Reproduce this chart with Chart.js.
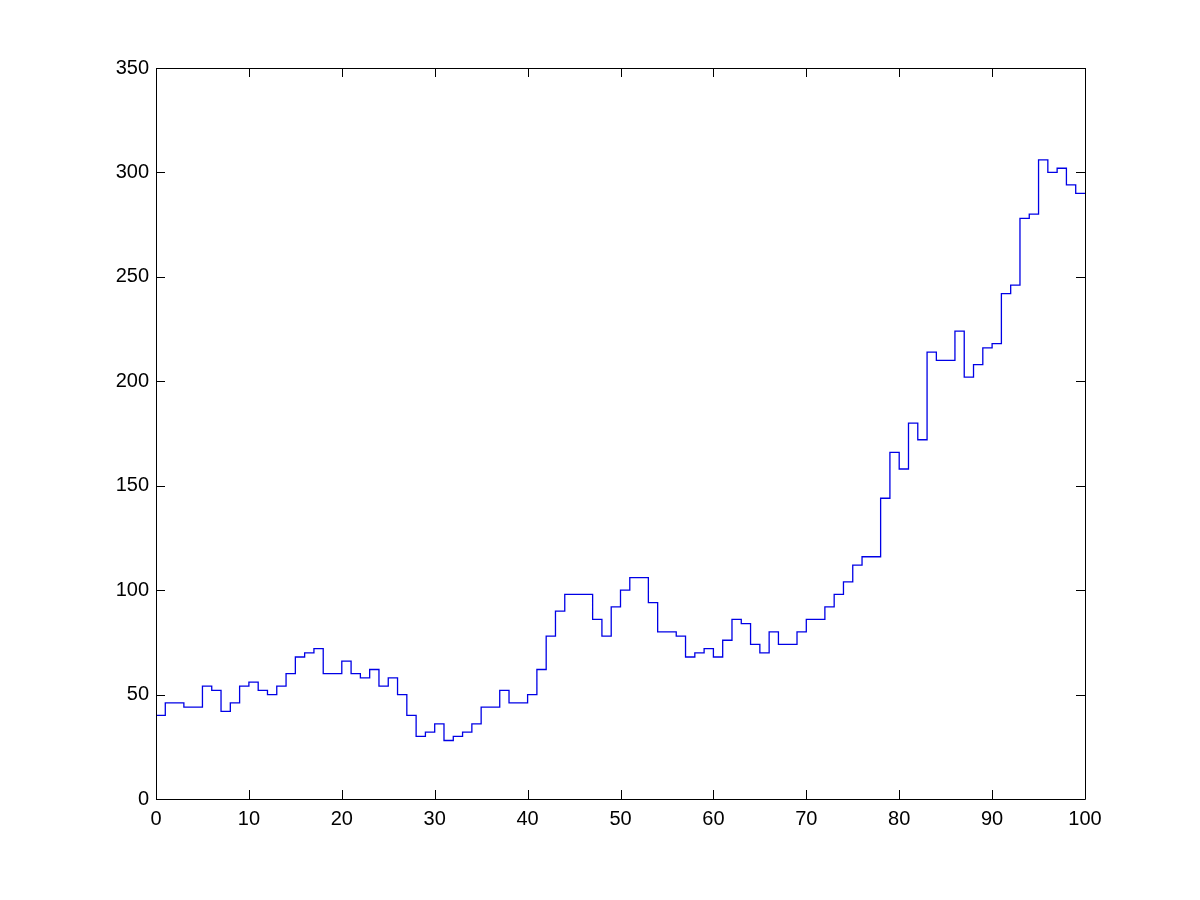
<!DOCTYPE html>
<html>
<head>
<meta charset="utf-8">
<script src="https://cdn.jsdelivr.net/npm/chart.js@4.4.0/dist/chart.umd.min.js"></script>
<style>
    html, body { margin: 0; padding: 0; background: #fff; }
    canvas { display: block; }
</style>
</head>
<body>
<canvas id="stairsChart" width="1200" height="900"></canvas>
<script>
// Step values, one per unit on x (0..99), last one repeated at x = 100
const stepValues = [
    40, 46, 46, 44, 44, 54, 52, 42, 46, 54,
    56, 52, 50, 54, 60, 68, 70, 72, 60, 60,
    66, 60, 58, 62, 54, 58, 50, 40, 30, 32,
    36, 28, 30, 32, 36, 44, 44, 52, 46, 46,
    50, 62, 78, 90, 98, 98, 98, 86, 78, 92,
    100, 106, 106, 94, 80, 80, 78, 68, 70, 72,
    68, 76, 86, 84, 74, 70, 80, 74, 74, 80,
    86, 86, 92, 98, 104, 112, 116, 116, 144, 166,
    158, 180, 172, 214, 210, 210, 224, 202, 208, 216,
    218, 242, 246, 278, 280, 306, 300, 302, 294, 290,
    290
];
const xTicks = [0, 10, 20, 30, 40, 50, 60, 70, 80, 90, 100];
const yTicks = [0, 50, 100, 150, 200, 250, 300, 350];

const points = stepValues.map((v, i) => ({ x: i, y: v }));

// MATLAB-like box with inward tick marks on all four sides
const boxPlugin = {
    id: 'matlabBox',
    afterDraw(chart) {
        const { ctx, chartArea: a, scales } = chart;
        const tl = 9;
        ctx.save();
        ctx.strokeStyle = '#000';
        ctx.lineWidth = 1;
        ctx.beginPath();
        ctx.rect(Math.round(a.left) + 0.5, Math.round(a.top) + 0.5,
                 Math.round(a.right - a.left), Math.round(a.bottom - a.top));
        xTicks.forEach(t => {
            const px = Math.round(scales.x.getPixelForValue(t)) + 0.5;
            ctx.moveTo(px, a.bottom); ctx.lineTo(px, a.bottom - tl);
            ctx.moveTo(px, a.top); ctx.lineTo(px, a.top + tl);
        });
        yTicks.forEach(t => {
            const py = Math.round(scales.y.getPixelForValue(t)) + 0.5;
            ctx.moveTo(a.left, py); ctx.lineTo(a.left + tl, py);
            ctx.moveTo(a.right, py); ctx.lineTo(a.right - tl, py);
        });
        ctx.stroke();
        ctx.restore();
    }
};

const ctx = document.getElementById('stairsChart').getContext('2d');
new Chart(ctx, {
    type: 'line',
    data: {
        datasets: [{
            data: points,
            stepped: 'before',
            borderColor: '#0000e6',
            borderWidth: 1.3,
            pointRadius: 0,
            fill: false
        }]
    },
    options: {
        responsive: false,
        animation: false,
        layout: { padding: { top: 68, right: 115, left: 0, bottom: 0 } },
        plugins: { legend: { display: false }, tooltip: { enabled: false } },
        scales: {
            x: {
                type: 'linear',
                min: 0,
                max: 100,
                afterFit: s => { s.height = 101; },
                afterBuildTicks: s => { s.ticks = xTicks.map(v => ({ value: v })); },
                grid: { display: false, drawTicks: false },
                border: { display: false },
                ticks: {
                    padding: 8,
                    color: '#000',
                    font: { family: 'Liberation Sans, Arial', size: 20 }
                }
            },
            y: {
                min: 0,
                max: 350,
                afterFit: s => { s.width = 156; },
                afterBuildTicks: s => { s.ticks = yTicks.map(v => ({ value: v })); },
                grid: { display: false, drawTicks: false },
                border: { display: false },
                ticks: {
                    padding: 7,
                    color: '#000',
                    font: { family: 'Liberation Sans, Arial', size: 20 }
                }
            }
        }
    },
    plugins: [boxPlugin]
});
</script>
</body>
</html>
